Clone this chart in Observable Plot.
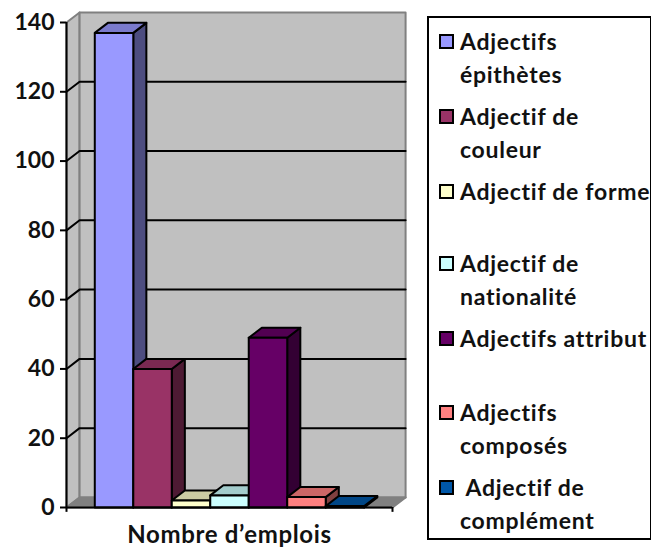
<!DOCTYPE html>
<html><head><meta charset="utf-8">
<script src="https://cdn.jsdelivr.net/npm/d3@7"></script>
<script src="https://cdn.jsdelivr.net/npm/@observablehq/plot@0.6"></script>
<style>
html,body{margin:0;padding:0;background:#fff}
#wrap{position:relative;width:651px;height:550px;overflow:hidden;font-family:Lato,sans-serif;font-weight:700;color:#111}
#legend{position:absolute;left:427px;top:16px;width:221px;height:520px;border:2px solid #000;background:#fff}
.sw{position:absolute;left:10px;width:11px;height:11px;border:2px solid #000}
.lb{position:absolute;font-size:23px;letter-spacing:0.72px;line-height:33px;white-space:pre}
.xl text{letter-spacing:0.65px}
</style></head><body><div id="wrap"><div id="chart"></div><div id="legend"></div></div>
<script>
const categories = ["Adjectifs épithètes","Adjectif de couleur","Adjectif de forme","Adjectif de nationalité","Adjectifs attribut","Adjectifs composés","Adjectif de complément"];
const values = [137, 40, 2, 3.5, 49, 3, 0.4];
const colors = ["#9999FF","#993366","#FFFFCC","#CCFFFF","#660066","#FF8080","#0057A8"];
const yTicks = [0,20,40,60,80,100,120,140];
const xLabel = "Nombre d’emplois";
const legendLines = [["Adjectifs","épithètes"],["Adjectif de","couleur"],["Adjectif de forme"],["Adjectif de","nationalité"],["Adjectifs attribut"],["Adjectifs","composés"],[" Adjectif de","complément"]];
const legendTops = [24,99,174,246,321,395,470];

// depth of the 3D box, in data units
const DX = 0.34, DY = 2.9;
const X0 = -0.735, X1 = 7.735, YMAX = 140;

const shade = (c,k) => { const r = d3.rgb(c); return d3.rgb(r.r*k,r.g*k,r.b*k).formatHex(); };
const poly = (id, fill, pts) => [...pts, pts[0]].map(([x,y]) => ({id, fill, x, y}));

const walls = [
  ...poly("left","#C0C0C0",[[X0,0],[X0+DX,DY],[X0+DX,YMAX+DY],[X0,YMAX]]),
  ...poly("back","#C0C0C0",[[X0+DX,DY],[X1+DX,DY],[X1+DX,YMAX+DY],[X0+DX,YMAX+DY]]),
  ...poly("floor","#808080",[[X0,0],[X1,0],[X1+DX,DY],[X0+DX,DY]])
];
const grid = yTicks.slice(1,-1).flatMap(t => [
  {id:t, x:X0, y:t},{id:t, x:X0+DX, y:t+DY},{id:t, x:X1+DX, y:t+DY}
]);
const bars = values.flatMap((v,i) => {
  const c = colors[i];
  return [
    ...poly(i+"s", shade(c,0.5), [[i+1,0],[i+1+DX,DY],[i+1+DX,v+DY],[i+1,v]]),
    ...poly(i+"t", shade(c,0.8), [[i,v],[i+1,v],[i+1+DX,v+DY],[i+DX,v+DY]]),
    ...poly(i+"f", c, [[i,0],[i+1,0],[i+1,v],[i,v]])
  ];
});

const chart = Plot.plot({
  width:651, height:550,
  marginLeft:66, marginRight:259, marginTop:22, marginBottom:43,
  style:{fontFamily:"Lato,sans-serif",fontWeight:700,background:"transparent",color:"#111"},
  x:{type:"linear",domain:[X0,X1],axis:null},
  y:{type:"linear",domain:[0,YMAX],axis:null},
  marks:[
    Plot.line(walls,{x:"x",y:"y",z:"id",fill:"fill",stroke:"#808080",strokeWidth:2}),
    Plot.line(grid,{x:"x",y:"y",z:"id",stroke:"#000",strokeWidth:2}),
    Plot.line(bars,{x:"x",y:"y",z:"id",fill:"fill",stroke:"#000",strokeWidth:2,strokeLinejoin:"round"}),
    Plot.ruleX([X0],{y1:0,y2:YMAX,stroke:"#000",strokeWidth:2}),
    Plot.ruleY([0],{x1:X0,x2:X1,stroke:"#000",strokeWidth:2}),
    Plot.axisY({ticks:yTicks,tickSize:6,tickPadding:6,fontSize:23,strokeWidth:2,stroke:"#000",label:null}),
    Plot.ruleX([X0,X1],{y1:0,y2:-1.4,stroke:"#000",strokeWidth:2}),
    Plot.text([xLabel],{x:[3.5],y:[0],dy:28,fontSize:24,fontWeight:700,fill:"#111",className:"xl"})
  ]
});
document.getElementById("chart").appendChild(chart);

const lg = document.getElementById("legend");
categories.forEach((cat,i) => {
  const top = legendTops[i];
  const s = document.createElement("div");
  s.className = "sw"; s.style.top = (top-8)+"px"; s.style.background = colors[i];
  lg.appendChild(s);
  const l = document.createElement("div");
  l.className = "lb"; l.style.left = "31px"; l.style.top = (top-17)+"px";
  l.setAttribute("aria-label",cat);
  l.textContent = legendLines[i].join("\n");
  lg.appendChild(l);
});
</script></body></html>
